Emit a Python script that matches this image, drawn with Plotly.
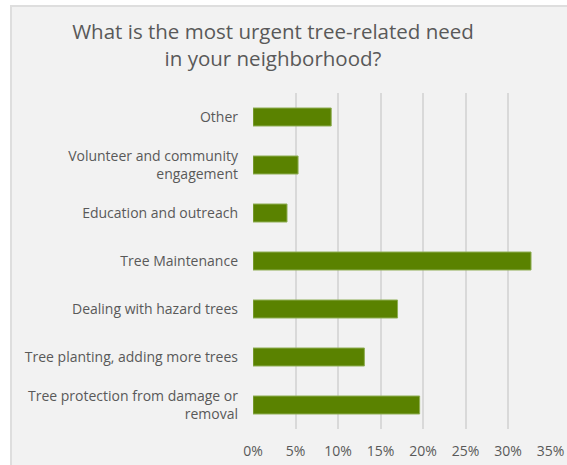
import plotly.graph_objects as go

# Survey responses, listed bottom-to-top as they appear on the axis
categories = [
    "Tree protection from damage or<br>removal",
    "Tree planting, adding more trees",
    "Dealing with hazard trees",
    "Tree Maintenance",
    "Education and outreach",
    "Volunteer and community<br>engagement",
    "Other",
]
shares = [19.6, 13.1, 17.0, 32.7, 4.0, 5.3, 9.2]
tick_values = [0, 5, 10, 15, 20, 25, 30, 35]
tick_labels = ["0%", "5%", "10%", "15%", "20%", "25%", "30%", "35%"]

W, H = 567, 465
L, R, T, B = 253, 16, 93, 36
pw, ph = W - L - R, H - T - B


def px_x(px):
    return (px - L) / pw


def px_y(py):
    return 1 - (py - T) / ph


FONT = "Open Sans"
TEXT = "#595959"

fig = go.Figure(
    go.Bar(
        x=shares,
        y=categories,
        orientation="h",
        marker=dict(color="#5a8200", line=dict(color="#8fae55", width=1)),
        hoverinfo="x+y",
    )
)

fig.update_layout(
    width=W,
    height=H,
    margin=dict(l=L, r=R, t=T, b=B, autoexpand=False),
    paper_bgcolor="#ffffff",
    plot_bgcolor="rgba(0,0,0,0)",
    bargap=0.625,
    showlegend=False,
    font=dict(family=FONT, color=TEXT),
    title=dict(
        text="What is the most urgent tree-related need<br>in your neighborhood?",
        x=273 / W,
        xref="container",
        xanchor="center",
        y=1 - 39 / H,
        yref="container",
        yanchor="middle",
        font=dict(family=FONT, size=20.5, color=TEXT),
    ),
    xaxis=dict(
        range=[0, 35.05],
        tickvals=tick_values,
        ticktext=tick_labels,
        showgrid=True,
        gridcolor="#d9d9d9",
        gridwidth=1.5,
        zeroline=False,
        showline=False,
        automargin=False,
        ticklabelstandoff=12,
        tickfont=dict(size=14, color=TEXT),
        fixedrange=True,
    ),
    yaxis=dict(
        categoryorder="array",
        categoryarray=categories,
        showgrid=False,
        zeroline=False,
        showline=False,
        automargin=False,
        ticklabelstandoff=14,
        tickfont=dict(size=14, color=TEXT),
        fixedrange=True,
    ),
    shapes=[
        # light grey panel behind the chart, inset from the page's top-left
        dict(
            type="rect",
            xref="paper",
            yref="paper",
            x0=px_x(10),
            x1=px_x(W + 5),
            y0=px_y(H + 5),
            y1=px_y(5),
            fillcolor="#f2f2f2",
            line=dict(color="rgba(0,0,0,0)", width=0),
            layer="below",
        ),
        dict(
            type="line",
            xref="paper",
            yref="paper",
            x0=px_x(11),
            x1=px_x(11),
            y0=px_y(H + 5),
            y1=px_y(5),
            line=dict(color="#dedede", width=2),
            layer="below",
        ),
        dict(
            type="line",
            xref="paper",
            yref="paper",
            x0=px_x(10),
            x1=px_x(W + 5),
            y0=px_y(6),
            y1=px_y(6),
            line=dict(color="#dedede", width=2),
            layer="below",
        ),
    ],
)

fig.write_html("out.html")
